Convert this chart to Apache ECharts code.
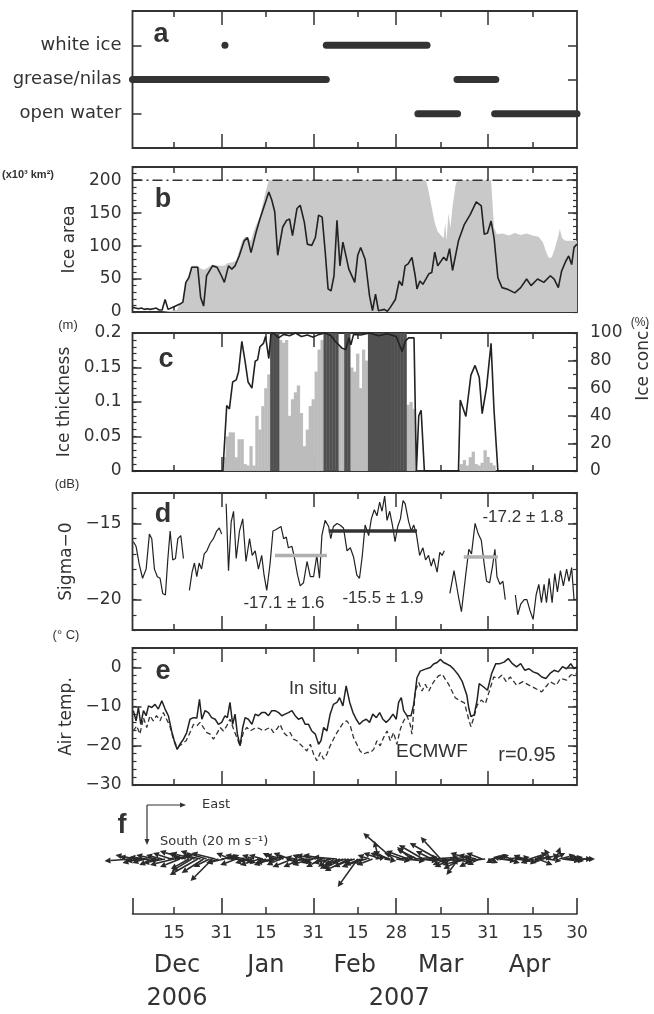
<!DOCTYPE html>
<html>
<head>
<meta charset="utf-8">
<title>Ice conditions, Dec 2006 - Apr 2007</title>
<script src="https://cdn.jsdelivr.net/npm/echarts@6.0.0/dist/echarts.min.js"></script>
<style>
  html, body { margin: 0; padding: 0; background: #fff; }
  #main { width: 654px; height: 1014px; }
</style>
</head>
<body>
<div id="main"></div>
<script>
// time axis: day 0 = 1 Dec 2006 ... day 150 = 30 Apr 2007
var monthEnds = [30, 61, 89, 120];
var midMonths = [14, 45, 76, 104, 135];
var tickDays = [14, 30, 45, 61, 76, 89, 104, 120, 135, 150];
var tickLabels = ['15', '31', '15', '31', '15', '28', '15', '31', '15', '30'];
var monthDays = [15, 45, 75, 104, 134];
var monthNames = ['Dec', 'Jan', 'Feb', 'Mar', 'Apr'];
var yearDays = [15, 90];
var yearNames = ['2006', '2007'];

// (a) ice type
var typeLevels = [1, 2, 3];
var typeNames = ['open water', 'grease/nilas', 'white ice'];
var whiteIceSpans = [[65.4, 99.4]];
var whiteIceDots = [31.2];
var greaseSpans = [[0, 65.4], [109.5, 122.6]];
var openWaterSpans = [[96.3, 109.7], [122.2, 150]];

// (b) ice area, x10^3 km2
var regionArea = 200;
var iceAreaObs = [[0,7],[1,6],[2,5],[3,6],[4,4],[5,5],[6,4],[7,5],[8,6],[9,3],[10,3],[11,19],[12,4],[14,8],[16,12],[17,15],[18,45],[19,52],[20,68],[22,68],[23,22],[24,9],[25,55],[27,70],[28.5,68],[30,55],[31,45],[32.4,70],[33.5,65],[34.6,70],[36,85],[37.7,108],[38.8,113],[40,90],[41.7,121],[43,141],[46,182],[47,170],[48,152],[49,86],[50.7,129],[52,139],[53,141],[54,116],[55.5,157],[56.6,162],[58,136],[59,103],[60.5,101],[61.7,113],[62.8,147],[64,144],[65,93],[66,35],[67,32],[68,55],[69,139],[70,70],[71,106],[72,86],[73,65],[75,45],[76,86],[77,98],[78.5,80],[80,24],[81,2],[82,27],[83,2],[85,4],[86,1],[87,7],[88.7,19],[90,47],[91,40],[92,70],[93,73],[94.3,83],[95.4,55],[96,35],[97,47],[98,42],[100,58],[101,60],[102,91],[103,70],[105,83],[106,78],[107,96],[108,63],[110,108],[112,133],[114,148],[116,167],[117.7,161],[118.7,118],[119.8,120],[121,138],[122,113],[123.3,52],[124.7,37],[126.8,34],[129,29],[131,37],[133,50],[134.5,40],[136.7,50],[138.8,45],[141,55],[142.3,50],[143.7,37],[144.8,62],[146.2,77],[147.2,85],[148.2,72],[149,98],[150,103]];
var iceAreaSat = [[0,0],[10,0],[15,3],[16,12],[17,16],[18,46],[19,54],[20,70],[22,70],[23,66],[24,64],[25,66],[27,72],[29,70],[31,70],[32,74],[34,76],[35,78],[36,93],[37,108],[38,114],[39,112],[40,108],[41,124],[43,145],[44.5,175],[46,200],[99,200],[99.6,190],[100.3,175],[101,158],[102,135],[103,122],[104,117],[105,112],[105.5,135],[106,108],[106.6,150],[107.3,128],[108,160],[109,192],[109.6,200],[121,200],[121.5,165],[122,128],[123,118],[125,119],[127,116],[129,120],[131,117],[133,119],[135,116],[137,114],[138.5,106],[139.5,92],[140.5,82],[141.5,83],[142.5,96],[143.5,112],[144.2,126],[145,112],[146,108],[148,108],[150,108]];

// (c) ice thickness (m) and ice concentration (%)
var thickness = [[0,0],[30.5,0],[31.8,0.095],[32.7,0.09],[33.8,0.129],[35,0.132],[35.8,0.144],[36.9,0.188],[38,0.159],[39,0.129],[40.3,0.12],[41.4,0.159],[42.2,0.161],[43,0.18],[44.2,0.185],[44.9,0.195],[46,0.163],[46.7,0.198],[47.6,0.2],[49.3,0.193],[51,0.198],[53,0.196],[55,0.2],[57,0.195],[59,0.197],[61,0.194],[63,0.198],[65,0.2],[67,0.196],[68.4,0.188],[70.7,0.178],[72,0.176],[73,0.193],[73.7,0.183],[74.6,0.198],[77,0.197],[80,0.2],[83,0.196],[86,0.199],[89,0.195],[91,0.173],[92,0.188],[93.2,0.193],[95,0.193],[95.8,0],[96.6,0.08],[97.4,0.088],[98.5,0],[110,0],[110.6,0.103],[112.5,0.079],[114.2,0.139],[115.6,0.153],[117,0.136],[118,0.083],[119.5,0.122],[121,0.185],[122,0.088],[123.3,0],[150,0]];
var concDays = [31,32,33,34,35,36,37,38,39,40,41,42,43,44,45,46,50,51,52,53,54,55,56,57,58,59,60,61,62,63,64,70,71,74,75,76,77,78,79,93,94,95,111,112,113,114,115,116,117,118,119,120,121,122];
var concVals = [10,25,28,28,10,23,23,5,4,18,4,40,30,47,60,70,95,93,95,40,52,57,62,42,18,30,47,52,72,88,95,90,88,75,72,85,60,88,80,48,50,45,5,8,4,10,14,5,4,6,15,10,6,4];
var fullDays = [47,48,49,65,66,67,68,69,72,73,80,81,82,83,84,85,86,87,88,89,90,91,92];

// (d) sigma-0 (dB), null = no data
var sigma0 = [[0.3,-16.2],[1.2,-16.5],[2.3,-17.7],[3.4,-18.6],[4.6,-18],[5.7,-15.7],[6.5,-16],[7.4,-18],[8.4,-18.5],[9.3,-18.6],[10.2,-19.6],[11.1,-19.7],[11.9,-17.4],[12.7,-15.5],[13.6,-17.4],[14.5,-17.3],[15.3,-16],[16.3,-15.8],[17.2,-17.3],[18.2,null],
[19.2,-19.4],[20.1,-18.2],[20.9,-17.6],[21.7,-18.5],[22.5,-17.6],[23.3,-18],[24.2,-17],[25.1,-16.8],[26.2,-16.3],[27.3,-16],[28.4,-15.5],[29.3,-15.3],[30.1,-15.7],[30.8,null],
[31.6,-13.7],[32.4,-18.1],[33.3,-14.9],[34.1,-14.2],[35,-17.3],[36.1,-15.5],[37.2,-14.7],[38.3,-17.5],[39.5,-16],[40.4,-17.1],[41.4,-16.8],[42.5,-18],[43.6,-17.1],[44.4,-18.4],[45.3,-19.4],[46.4,-17.7],[47.4,-15.5],[48.5,-15.4],[50.1,-15.2],[51,-16],[51.9,-15.9],[52.6,-16.6],[53.8,-16.5],[54.7,-17.3],[55.7,-18.4],[56.6,-19.1],[57.7,-18.9],[58.9,-17.5],[60,-18.5],[61.1,-18.5],[62.2,-17.1],[63.1,-18.6],[63.9,-15.8],[65,-14.8],[66.2,-15.2],[66.9,-16],[67.8,-15.2],[69,-15],[70,-15.1],[71.2,-15.3],[72.4,-16.8],[73.5,-16.6],[74.6,-17.2],[75.7,-18.4],[76.6,-18.6],[77.5,-17.2],[78.5,-15.1],[79.7,-15.8],[80.6,-14.7],[81.6,-14.1],[82.5,-14.5],[83.4,-13.6],[84.2,-14.2],[85.1,-13.2],[85.9,-14.8],[86.8,-14.2],[87.7,-15.1],[88.6,-16.2],[89.5,-15.2],[90.4,-14.7],[91.3,-13.5],[92,-13.7],[93.2,-14.9],[94.1,-15.5],[94.9,-15.1],[95.8,-15.7],[96.9,-17.1],[98,-16.6],[98.9,-17.4],[99.9,-17.1],[100.8,-17.8],[101.6,-17.3],[102.8,-18.2],[103.7,-16.9],[104.5,-17.1],[105.2,-16.8],[106,null],
[107.1,-19.6],[108.5,-18.1],[110,-19.8],[111,-20.8],[112.5,-18.3],[113.5,-16.7],[114.4,-17],[115.6,-15],[116.7,-15.7],[117.7,-16.1],[118.7,-17.7],[119.5,-18.8],[120.5,-18.9],[121.5,-17.8],[122.3,-16.7],[123,-18.5],[124,-19],[125,-18.8],[125.8,-20],[127.5,null],
[129.2,-19.7],[130,-21],[131,-20.3],[132.2,-20],[133.1,-20],[134.1,-20.7],[135.2,-21.3],[136.2,-19.7],[137.1,-19],[138,-20.2],[138.9,-19],[139.7,-20.2],[140.6,-18.6],[141.6,-20.2],[142.5,-18.3],[143.4,-19.5],[144.4,-18.1],[145.4,-19.1],[146.5,-18],[147.3,-18.8],[148.2,-17.9],[149,-20]];
var sigmaMeans = [
  {from: 48.1, to: 65.6, value: -17.1, sd: 1.6, color: '#b0b0b0'},
  {from: 66.2, to: 96, value: -15.5, sd: 1.9, color: '#333333'},
  {from: 111.8, to: 123.3, value: -17.2, sd: 1.8, color: '#b0b0b0'}
];

// (e) air temperature (deg C)
var airInSitu = [[0.3,-11],[1.2,-13.6],[2,-10.2],[2.8,-14.5],[3.7,-11],[4.6,-12.3],[5.4,-9.8],[6.5,-10.2],[7.6,-9.4],[8.7,-10.6],[9.9,-8.5],[11,-10.6],[12.1,-12.3],[13.2,-16.2],[14.4,-19.6],[15.1,-20.9],[16,-19.6],[17.2,-18.3],[18.3,-16.6],[19.4,-13.2],[20.6,-12.8],[21.7,-12.9],[22.6,-8.1],[23.4,-13.2],[24.5,-11],[25.6,-11.5],[26.7,-12.8],[27.9,-13.2],[29,-14.5],[30.1,-14],[31.2,-12.3],[32,-12.8],[32.9,-8.9],[33.8,-14.5],[34.6,-11.9],[35.4,-17],[36.3,-20],[37.2,-15.3],[38,-12.8],[39.1,-13.2],[40.3,-14.5],[41.4,-11.9],[42.5,-12.3],[43.6,-11.5],[44.8,-11.5],[45.9,-12.3],[47,-11],[48.1,-11],[49.3,-11.5],[50.4,-12.3],[51.5,-11.9],[52.6,-11.5],[53.8,-11],[54.9,-12.3],[56,-13.2],[57.2,-12.8],[58.3,-14.5],[59.4,-14.5],[60.5,-16.2],[61.7,-17],[62.8,-19.6],[63.6,-18.7],[64.5,-15.3],[65.6,-16.2],[66.7,-11.9],[67.8,-9.4],[69,-8.9],[69.9,-7.7],[71,-9.8],[72.1,-4.7],[73.3,-8.9],[74.4,-11.5],[75.5,-13.2],[76.6,-14.5],[77.8,-13.6],[78.9,-13.2],[80,-14],[81.1,-11.9],[82.3,-12.8],[83.4,-11.5],[84.5,-13.2],[85.6,-14],[86.7,-13.2],[87.9,-11.9],[89,-13.2],[89.8,-8.9],[90.7,-7.7],[91.5,-11],[92.6,-12.3],[94,-12.3],[94.9,-9.4],[96,-2.6],[97.1,-0.9],[98.8,-0.4],[100.5,0],[101.6,0.9],[102.8,1.3],[103.9,2.1],[105,1.3],[106.1,0.9],[107.3,0.4],[108.4,-0.4],[110,-1.9],[111.3,-3.6],[112.8,-7],[113.5,-10.4],[114.2,-12.5],[115.3,-12.1],[116.3,-8.3],[117,-4.1],[118.4,-4.9],[119.8,-5.8],[121.2,-1.5],[122.6,1],[124,1],[125.4,1.4],[126.8,2.3],[128.2,1],[129.6,0.2],[131,1],[132.4,-0.7],[133.8,-0.3],[135.2,-1.1],[136.7,-1.5],[138.1,-2.4],[139.5,-2.8],[140.9,-1.5],[142.3,-0.7],[143.7,-1.1],[145.1,0.2],[146.5,-0.3],[147.9,1],[149,-0.3],[150,0.2]];
var airEcmwf = [[0.3,-16.2],[1.4,-14.9],[2.5,-17],[3.7,-12.8],[4.8,-15.3],[5.9,-12.3],[7,-13.6],[8.1,-12.3],[9.3,-13.6],[10.4,-11.5],[11.5,-13.2],[12.6,-14.9],[13.8,-18.3],[15.1,-20.4],[16.6,-19.6],[18.1,-18.7],[19.4,-16.6],[20.6,-14.5],[21.7,-14.9],[22.8,-14],[23.9,-15.3],[25.1,-16.6],[26.2,-17],[27.3,-18.3],[28.4,-17],[29.6,-15.3],[30.7,-16.2],[31.8,-14.9],[32.9,-13.2],[34.1,-15.7],[35.2,-17.9],[36.3,-20],[37.4,-16.6],[38.6,-15.3],[39.7,-16.2],[40.8,-15.7],[41.9,-15.3],[43.1,-15.7],[44.2,-16.2],[45.3,-15.7],[46.5,-15.3],[47.6,-16.6],[48.7,-15.7],[49.8,-14.5],[51,-16.6],[52.1,-17.4],[53.2,-16.6],[54.3,-18.3],[55.5,-18.7],[56.6,-19.6],[57.7,-20.4],[58.8,-21.3],[60,-19.6],[61.1,-22.1],[62.2,-23.8],[63.4,-21.7],[64.5,-23.4],[65.6,-22.1],[66.7,-20],[67.8,-18.3],[69,-16.6],[70.1,-15.3],[71.2,-14],[72.3,-13.6],[73.5,-14.9],[74.6,-17.9],[75.7,-19.6],[76.8,-21.3],[77.9,-22.1],[79.1,-21.7],[80.2,-21.7],[81.4,-20.9],[82.5,-18.7],[83.6,-20],[84.7,-17.9],[85.9,-16.2],[87,-18.7],[88.1,-16.6],[89.2,-19.6],[90.4,-15.7],[91.5,-13.6],[92.6,-12.3],[93.7,-14.5],[94.3,-17],[95.4,-6],[96.6,-3.8],[97.7,-6],[98.8,-4.3],[100,-6],[101.1,-4.3],[102.2,-3],[103.3,-2.1],[104.5,-1.7],[105.6,-3],[106.7,-4.3],[107.8,-6],[108.9,-7.7],[110.6,-8.5],[112,-9],[113.5,-13.4],[114.2,-15.1],[115.3,-12.5],[116.3,-9.6],[117.7,-8.3],[119.1,-9.2],[120.5,-5.8],[121.9,-2.4],[123.3,-2.8],[124.7,-1.9],[126.1,-3.6],[127.5,-2.4],[129.6,-4.5],[131.7,-3.6],[133.8,-4.5],[135.9,-5.3],[138.1,-6.2],[139.5,-4.9],[140.9,-3.6],[143,-4.5],[144.4,-2.8],[146.5,-3.2],[147.9,-1.9],[150,-1.5]];

// (f) daily wind, east (u) and north (v) components, m/s, day = index
var windU = [
  -14,-10,-8,-11,-6,-9,-12,-7,-10,-5,
  -8,-11,6,-9,-12,8,-10,-7,-13,-9,
  -10,-12,-14,-9,-11,-13,-8,-11,-12,-6,
  8,-9,6,-7,10,-8,-6,7,-10,-5,
  -8,-6,9,-10,-7,-5,8,-9,-6,-11,
  -7,-9,6,-8,-10,-5,7,-9,-6,-8,
  -9,-6,-10,7,-8,-11,-5,-9,-7,-12,
  -8,-10,-7,-12,-9,-6,-10,-8,-11,-7,
  -6,-8,5,-2,-9,6,-7,-10,-15,7,
  8,-9,10,-11,-7,12,-10,9,-12,11,
  10,-8,12,-14,-10,9,-7,11,-9,8,
  -6,-9,-11,-8,-10,-7,-9,-6,-8,-10,
  5,7,-4,6,8,-5,7,6,-6,8,
  6,8,-5,7,9,-6,8,7,9,-4,
  7,-3,6,2,8,9,7,8,6,9,9
];
var windV = [
  -1,2,-2,1,-2,1,-1,-3,2,-1,
  2,-2,1,3,-3,2,-4,3,4,-5,
  -6,3,-8,2,-7,4,-4,-11,3,-2,
  1,-2,2,3,-1,-3,1,-2,2,-1,
  -2,2,-1,-3,2,-2,1,-3,3,-2,
  -3,2,-2,3,-4,1,-2,-4,2,-1,
  -3,-2,2,-3,-4,2,-4,-2,-5,1,
  -3,-5,-2,-6,-4,-2,-14,-3,-4,-2,
  2,-3,1,9,3,-1,4,3,13,-1,
  1,3,-1,4,6,1,5,-1,7,-1,
  -1,4,1,8,11,-1,-3,1,-4,-2,
  -8,-5,-3,-2,3,-4,2,-3,3,-1,
  -2,1,-2,2,-1,1,-2,1,2,-1,
  1,-2,2,-1,3,-2,1,-3,2,1,
  -1,5,3,6,2,-1,1,-1,1,0,0
];

var ink = '#333';
var numFont = 'DejaVu Sans';
var txtFont = 'Liberation Sans';

function minusFmt(v) { return String(v).replace('-', '\u2212'); }

var grid = [
  {top: 11, height: 137},
  {top: 167, height: 145},
  {top: 333, height: 138},
  {top: 493, height: 137},
  {top: 648, height: 137},
  {top: 800, height: 114}
].map(function (g, i) {
  return {left: 132.5, width: 444.5, top: g.top, height: g.height, show: i < 5,
    borderColor: ink, borderWidth: 1.8, backgroundColor: 'transparent'};
});

function tickAxis(g, pos, vals, len) {
  return {
    type: 'value', gridIndex: g, position: pos, min: 0, max: 150,
    axisLine: {show: false, onZero: false}, splitLine: {show: false}, axisLabel: {show: false},
    axisTick: {show: true, inside: true, length: len, customValues: vals, lineStyle: {color: ink, width: 1.5}}
  };
}
function labelAxis(vals, names, margin, size) {
  return {
    type: 'value', gridIndex: 5, position: 'bottom', min: 0, max: 150,
    axisLine: {show: false, onZero: false}, axisTick: {show: false}, splitLine: {show: false},
    axisLabel: {show: true, customValues: vals, margin: margin, color: ink, fontFamily: numFont, fontSize: size,
      formatter: function (v) { return names[vals.indexOf(v)]; }}
  };
}

var xAxis = [];
for (var g = 0; g < 5; g++) {
  xAxis.push(tickAxis(g, 'bottom', monthEnds, 14));
  xAxis.push(tickAxis(g, 'bottom', midMonths, 6));
  xAxis.push(tickAxis(g, 'top', monthEnds, 14));
  xAxis.push(tickAxis(g, 'top', midMonths, 6));
}
var xF = xAxis.length;
xAxis.push({
  type: 'value', gridIndex: 5, position: 'bottom', min: 0, max: 150,
  axisLine: {show: true, onZero: false, lineStyle: {color: ink, width: 1.6}},
  splitLine: {show: false},
  axisTick: {show: true, inside: true, length: 16, customValues: [0].concat(monthEnds, [150]), lineStyle: {color: ink, width: 1.6}},
  axisLabel: {show: true, customValues: tickDays, margin: 11, color: ink, fontFamily: numFont, fontSize: 17,
    formatter: function (v) { return tickLabels[tickDays.indexOf(v)]; }}
});
xAxis.push(tickAxis(5, 'bottom', midMonths, 7));
xAxis.push(labelAxis(monthDays, monthNames, 40, 24));
xAxis.push(labelAxis(yearDays, yearNames, 73, 24));

function yMajor(g, pos, min, max, vals, showLabels, name, fmt) {
  var ax = {
    type: 'value', gridIndex: g, position: pos, min: min, max: max,
    axisLine: {show: false, onZero: false}, splitLine: {show: false},
    axisTick: {show: true, inside: true, length: 9, customValues: vals, lineStyle: {color: ink, width: 1.5}},
    axisLabel: {show: showLabels, customValues: vals, margin: pos === 'left' ? 11 : 13, color: ink,
      fontFamily: numFont, fontSize: 17, formatter: fmt || minusFmt}
  };
  if (name) {
    ax.name = name; ax.nameLocation = 'middle'; ax.nameRotate = 90; ax.nameGap = 54;
    ax.nameTextStyle = {color: ink, fontFamily: numFont, fontSize: 17};
  }
  return ax;
}
function yMinor(g, pos, min, max, step) {
  return {
    type: 'value', gridIndex: g, position: pos, min: min, max: max, interval: step,
    axisLine: {show: false, onZero: false}, splitLine: {show: false}, axisLabel: {show: false},
    axisTick: {show: true, inside: true, length: 4, lineStyle: {color: ink, width: 1.2}}
  };
}

var yAxis = [];
var yA = yAxis.push(yMajor(0, 'left', 0, 4, typeLevels, true, null, function (v) { return typeNames[typeLevels.indexOf(v)]; })) - 1;
yAxis[yA].axisLabel.fontSize = 18;
yAxis.push(yMajor(0, 'right', 0, 4, typeLevels, false));
var yB = yAxis.push(yMajor(1, 'left', 0, 220, [0, 50, 100, 150, 200], true, 'Ice area')) - 1;
yAxis.push(yMinor(1, 'left', 0, 220, 10), yMajor(1, 'right', 0, 220, [0, 50, 100, 150, 200], false), yMinor(1, 'right', 0, 220, 10));
var yC = yAxis.push(yMajor(2, 'left', 0, 0.2, [0, 0.05, 0.1, 0.15, 0.2], true, 'Ice thickness')) - 1;
yAxis.push(yMinor(2, 'left', 0, 0.2, 0.01));
var yC2 = yAxis.push(yMajor(2, 'right', 0, 100, [0, 20, 40, 60, 80, 100], true)) - 1;
yAxis.push(yMinor(2, 'right', 0, 100, 10));
var yD = yAxis.push(yMajor(3, 'left', -22, -13, [-20, -15], true, 'Sigma\u22120')) - 1;
yAxis.push(yMinor(3, 'left', -22, -13, 1), yMajor(3, 'right', -22, -13, [-20, -15], false), yMinor(3, 'right', -22, -13, 1));
var yE = yAxis.push(yMajor(4, 'left', -30, 5, [-30, -20, -10, 0], true, 'Air temp.')) - 1;
yAxis.push(yMinor(4, 'left', -30, 5, 2), yMajor(4, 'right', -30, 5, [-30, -20, -10, 0], false), yMinor(4, 'right', -30, 5, 2));
// wind panel: vertical axis in m/s, 0 on the stick baseline
var yF = yAxis.push({type: 'value', gridIndex: 5, min: -27.5, max: 29.5, show: false, axisLine: {onZero: false}}) - 1;

var series = [];

// (a)
function spanSeries(spans, level) {
  spans.forEach(function (s) {
    series.push({
      type: 'line', xAxisIndex: 0, yAxisIndex: yA, symbol: 'none', clip: false, silent: true,
      data: [[s[0], level], [s[1], level]],
      lineStyle: {color: ink, width: 7, cap: 'round'}
    });
  });
}
spanSeries(whiteIceSpans, 3);
spanSeries(greaseSpans, 2);
spanSeries(openWaterSpans, 1);
series.push({
  type: 'scatter', xAxisIndex: 0, yAxisIndex: yA, symbolSize: 7, clip: false,
  itemStyle: {color: ink, opacity: 1}, data: whiteIceDots.map(function (d) { return [d, 3]; })
});

// (b)
series.push({
  type: 'line', xAxisIndex: 4, yAxisIndex: yB, symbol: 'none', data: iceAreaSat,
  lineStyle: {width: 0}, areaStyle: {color: '#c9c9c9', opacity: 1}
});
series.push({
  type: 'line', xAxisIndex: 4, yAxisIndex: yB, symbol: 'none',
  data: [[0, regionArea], [150, regionArea]],
  lineStyle: {color: ink, width: 1.5, type: [10, 4, 2, 4]}
});
series.push({
  type: 'line', xAxisIndex: 4, yAxisIndex: yB, symbol: 'none', data: iceAreaObs,
  lineStyle: {color: '#222', width: 1.6}
});

// (c)
var concBars = concDays.map(function (d, i) { return {value: [d, concVals[i]]}; });
fullDays.forEach(function (d) { concBars.push({value: [d, 100], itemStyle: {color: '#505050'}}); });
series.push({
  type: 'bar', xAxisIndex: 8, yAxisIndex: yC2, barWidth: 3.3, data: concBars,
  itemStyle: {color: '#bcbcbc'}
});
series.push({
  type: 'line', xAxisIndex: 8, yAxisIndex: yC, symbol: 'none', data: thickness,
  lineStyle: {color: '#222', width: 1.6}
});

// (d)
series.push({
  type: 'line', xAxisIndex: 12, yAxisIndex: yD, symbol: 'none', connectNulls: false, data: sigma0,
  lineStyle: {color: '#222', width: 1.2}
});
sigmaMeans.forEach(function (m) {
  series.push({
    type: 'line', xAxisIndex: 12, yAxisIndex: yD, symbol: 'none',
    data: [[m.from, m.value], [m.to, m.value]],
    lineStyle: {color: m.color, width: 3.5}
  });
});

// (e)
series.push({
  type: 'line', xAxisIndex: 16, yAxisIndex: yE, symbol: 'none', data: airEcmwf,
  lineStyle: {color: ink, width: 1.3, type: [5, 3]}
});
series.push({
  type: 'line', xAxisIndex: 16, yAxisIndex: yE, symbol: 'none', data: airInSitu,
  lineStyle: {color: '#222', width: 1.5}
});

// (f) wind sticks
series.push({
  type: 'custom', xAxisIndex: xF, yAxisIndex: yF, clip: false,
  data: windU.map(function (u, i) { return [i, u, windV[i]]; }),
  renderItem: function (params, api) {
    var base = api.coord([api.value(0), 0]);
    var unit = api.size([0, 1])[1];
    var dx = api.value(1) * unit, dy = -api.value(2) * unit;
    var len = Math.sqrt(dx * dx + dy * dy) || 1;
    var ux = dx / len, uy = dy / len;
    var ex = base[0] + dx, ey = base[1] + dy;
    var bx = ex - ux * 6, by = ey - uy * 6;
    return {
      type: 'group',
      children: [
        {type: 'line', shape: {x1: base[0], y1: base[1], x2: bx, y2: by}, style: {stroke: '#2a2a2a', lineWidth: 1.6}},
        {type: 'polygon', shape: {points: [[ex, ey], [bx - uy * 3, by + ux * 3], [bx + uy * 3, by - ux * 3]]},
          style: {fill: '#2a2a2a'}}
      ]
    };
  }
});

function txt(x, y, s, size, opts) {
  opts = opts || {};
  return {
    type: 'text', x: x, y: y, rotation: opts.rotation || 0, silent: true,
    style: {text: s, fontSize: size, fontFamily: opts.font || txtFont, fontWeight: opts.weight || 'normal',
      fill: ink, align: opts.align || 'center', verticalAlign: 'middle'}
  };
}
function arrowGraphic(x1, y1, x2, y2) {
  var dx = x2 - x1, dy = y2 - y1, len = Math.sqrt(dx * dx + dy * dy);
  var ux = dx / len, uy = dy / len, bx = x2 - ux * 6, by = y2 - uy * 6;
  return [
    {type: 'line', shape: {x1: x1, y1: y1, x2: bx, y2: by}, style: {stroke: ink, lineWidth: 1.2}},
    {type: 'polygon', shape: {points: [[x2, y2], [bx - uy * 2.5, by + ux * 2.5], [bx + uy * 2.5, by - ux * 2.5]]}, style: {fill: ink}}
  ];
}

var graphic = [
  txt(161, 35, 'a', 27, {weight: 'bold'}),
  txt(163, 200, 'b', 27, {weight: 'bold'}),
  txt(166, 360, 'c', 27, {weight: 'bold'}),
  txt(163, 515, 'd', 27, {weight: 'bold'}),
  txt(163, 672, 'e', 27, {weight: 'bold'}),
  txt(122, 826, 'f', 27, {weight: 'bold'}),
  txt(28, 175, '(x10\u00b3 km\u00b2)', 11, {weight: 'bold'}),
  txt(68, 325, '(m)', 13),
  txt(640, 323, '(%)', 12),
  txt(67, 484, '(dB)', 13),
  txt(66, 635, '(\u00b0 C)', 13),
  txt(644, 363, 'Ice conc.', 17, {font: numFont, rotation: Math.PI / 2}),
  txt(284, 603, '-17.1 \u00b1 1.6', 17),
  txt(383, 598, '-15.5 \u00b1 1.9', 17),
  txt(523, 517, '-17.2 \u00b1 1.8', 17),
  txt(313, 689, 'In situ', 18),
  txt(432, 752, 'ECMWF', 19),
  txt(527, 755, 'r=0.95', 20),
  txt(202, 805, 'East', 13, {align: 'left', font: numFont}),
  txt(160, 842, 'South (20 m s\u207b\u00b9)', 13, {align: 'left', font: numFont})
].concat(arrowGraphic(147, 805, 186, 805), arrowGraphic(147, 805, 147, 845));

var chart = echarts.init(document.getElementById('main'), null, {renderer: 'canvas'});
chart.setOption({
  animation: false,
  backgroundColor: '#fff',
  grid: grid,
  xAxis: xAxis,
  yAxis: yAxis,
  series: series,
  graphic: graphic
});
</script>
</body>
</html>
